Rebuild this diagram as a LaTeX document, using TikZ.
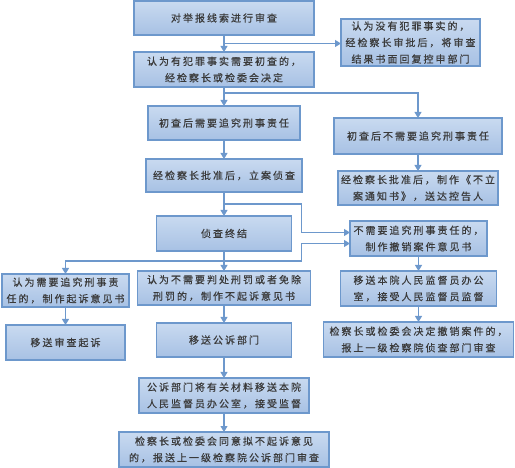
\documentclass[tikz,border=0pt]{standalone}
\usepackage{fontspec}
\newfontfamily\cjk[LetterSpace=20,FakeBold=0.5]{Noto Sans CJK SC}
\usetikzlibrary{positioning,calc,arrows.meta}
\definecolor{boxline}{HTML}{6D98CC}
\definecolor{boxtop}{HTML}{C9DAF0}
\definecolor{boxbot}{HTML}{A7C1E4}
\definecolor{flowtext}{HTML}{3A3A3A}

\begin{document}
\begin{tikzpicture}[x=1pt,y=-1pt,
  stepbox/.style={rectangle, draw=boxline, line width=1.1pt, top color=boxtop, bottom color=boxbot,
    text=flowtext, font=\fontsize{10}{16.5}\selectfont\cjk, align=center, inner sep=0pt,
    outer sep=0pt, minimum height=35pt},
  arr/.style={-{Triangle[length=6pt,width=7pt]}, line width=1.1pt, color=boxline}
]
\useasboundingbox (0,0) rectangle (515,468);
% main column
\node[stepbox,minimum width=180pt,minimum height=34pt] (shencha) at (224,18) {对举报线索进行审查};
\node[stepbox,minimum width=180pt,below=17pt of shencha] (chucha) {认为有犯罪事实需要初查的，\\经检察长或检委会决定};
\node[stepbox,minimum width=152pt,minimum height=34pt,below=19pt of chucha] (zhuijiu) {初查后需要追究刑事责任};
\node[stepbox,minimum width=156pt,minimum height=33pt,below=19pt of zhuijiu] (lian) {经检察长批准后，立案侦查};
\node[stepbox,minimum width=135pt,below=24pt of lian] (zhongjie) {侦查终结};
\node[stepbox,minimum width=173pt,minimum height=34pt,below=20pt of zhongjie] (buqisu) {认为不需要判处刑罚或者免除\\刑罚的，制作不起诉意见书};
\node[stepbox,minimum width=135pt,minimum height=34pt,below=18pt of buqisu] (gongsu) {移送公诉部门};
\node[stepbox,minimum width=170pt,below=21pt of gongsu] (jiandu) {公诉部门将有关材料移送本院\\人民监督员办公室，接受监督};
\node[stepbox,minimum width=210pt,below=19pt of jiandu] (baosong) {检察长或检委会同意拟不起诉意见\\的，报送上一级检察院公诉部门审查};
% right column
\node[stepbox,minimum width=139pt,minimum height=47pt] (wufanzui) at (410.5,42.5) {认为没有犯罪事实的，\\经检察长审批后，将审查\\结果书面回复控申部门};
\node[stepbox,minimum width=168pt,minimum height=36pt] (buzhuijiu) at (418,136) {初查后不需要追究刑事责任};
\node[stepbox,minimum width=160pt,minimum height=34pt,below=17pt of buzhuijiu] (bulian) {经检察长批准后，制作《不立\\案通知书》，送达控告人};
\node[stepbox,minimum width=137pt] (chexiao) at (418.5,238.5) {不需要追究刑事责任的，\\制作撤销案件意见书};
\node[stepbox,minimum width=156pt,below=15pt of chexiao] (bengyuan) {移送本院人民监督员办公\\室，接受人民监督员监督};
\node[stepbox,minimum width=190pt,below=16pt of bengyuan] (shangji) {检察长或检委会决定撤销案件的，\\报上一级检察院侦查部门审查};
% left column
\node[stepbox,minimum width=127pt,minimum height=33pt] (qisu) at (65.5,290.5) {认为需要追究刑事责\\任的，制作起诉意见书};
\node[stepbox,minimum width=119pt,below=18pt of qisu] (yisong) {移送审查起诉};
% junctions
\coordinate (fen1) at ($(shencha.south)!0.5!(chucha.north)$);
\coordinate (fen2) at ([yshift=-6pt]chucha.south);
\coordinate (fen3) at ($(lian.south)!0.5!(zhongjie.north)$);
\coordinate (fen4) at ($(zhongjie.south)!0.5!(buqisu.north)$);
\coordinate (guai) at ([xshift=10pt]zhongjie.east);
\coordinate (ruA) at ([yshift=6pt]chexiao.west);
\coordinate (ruB) at ([yshift=-5pt]chexiao.west);
% connectors
\draw[arr] (shencha) -- (chucha);
\draw[arr] (fen1) -- (fen1 -| wufanzui.west);
\draw[arr] (chucha) -- (zhuijiu);
\draw[arr] (fen2) -| (buzhuijiu.north);
\draw[arr] (buzhuijiu) -- (bulian);
\draw[arr] (zhuijiu) -- (lian);
\draw[arr] (lian) -- (zhongjie);
\draw[arr] (fen3) -| (guai |- ruA) -- (ruA);
\draw[arr] (zhongjie) -- (buqisu);
\draw[arr] (fen4) -| (qisu.north);
\draw[arr] (fen4) -| (guai |- ruB) -- (ruB);
\draw[arr] (chexiao) -- (bengyuan);
\draw[arr] (bengyuan) -- (shangji);
\draw[arr] (qisu) -- (yisong);
\draw[arr] (buqisu) -- (gongsu);
\draw[arr] (gongsu) -- (jiandu);
\draw[arr] (jiandu) -- (baosong);
\end{tikzpicture}
\end{document}
